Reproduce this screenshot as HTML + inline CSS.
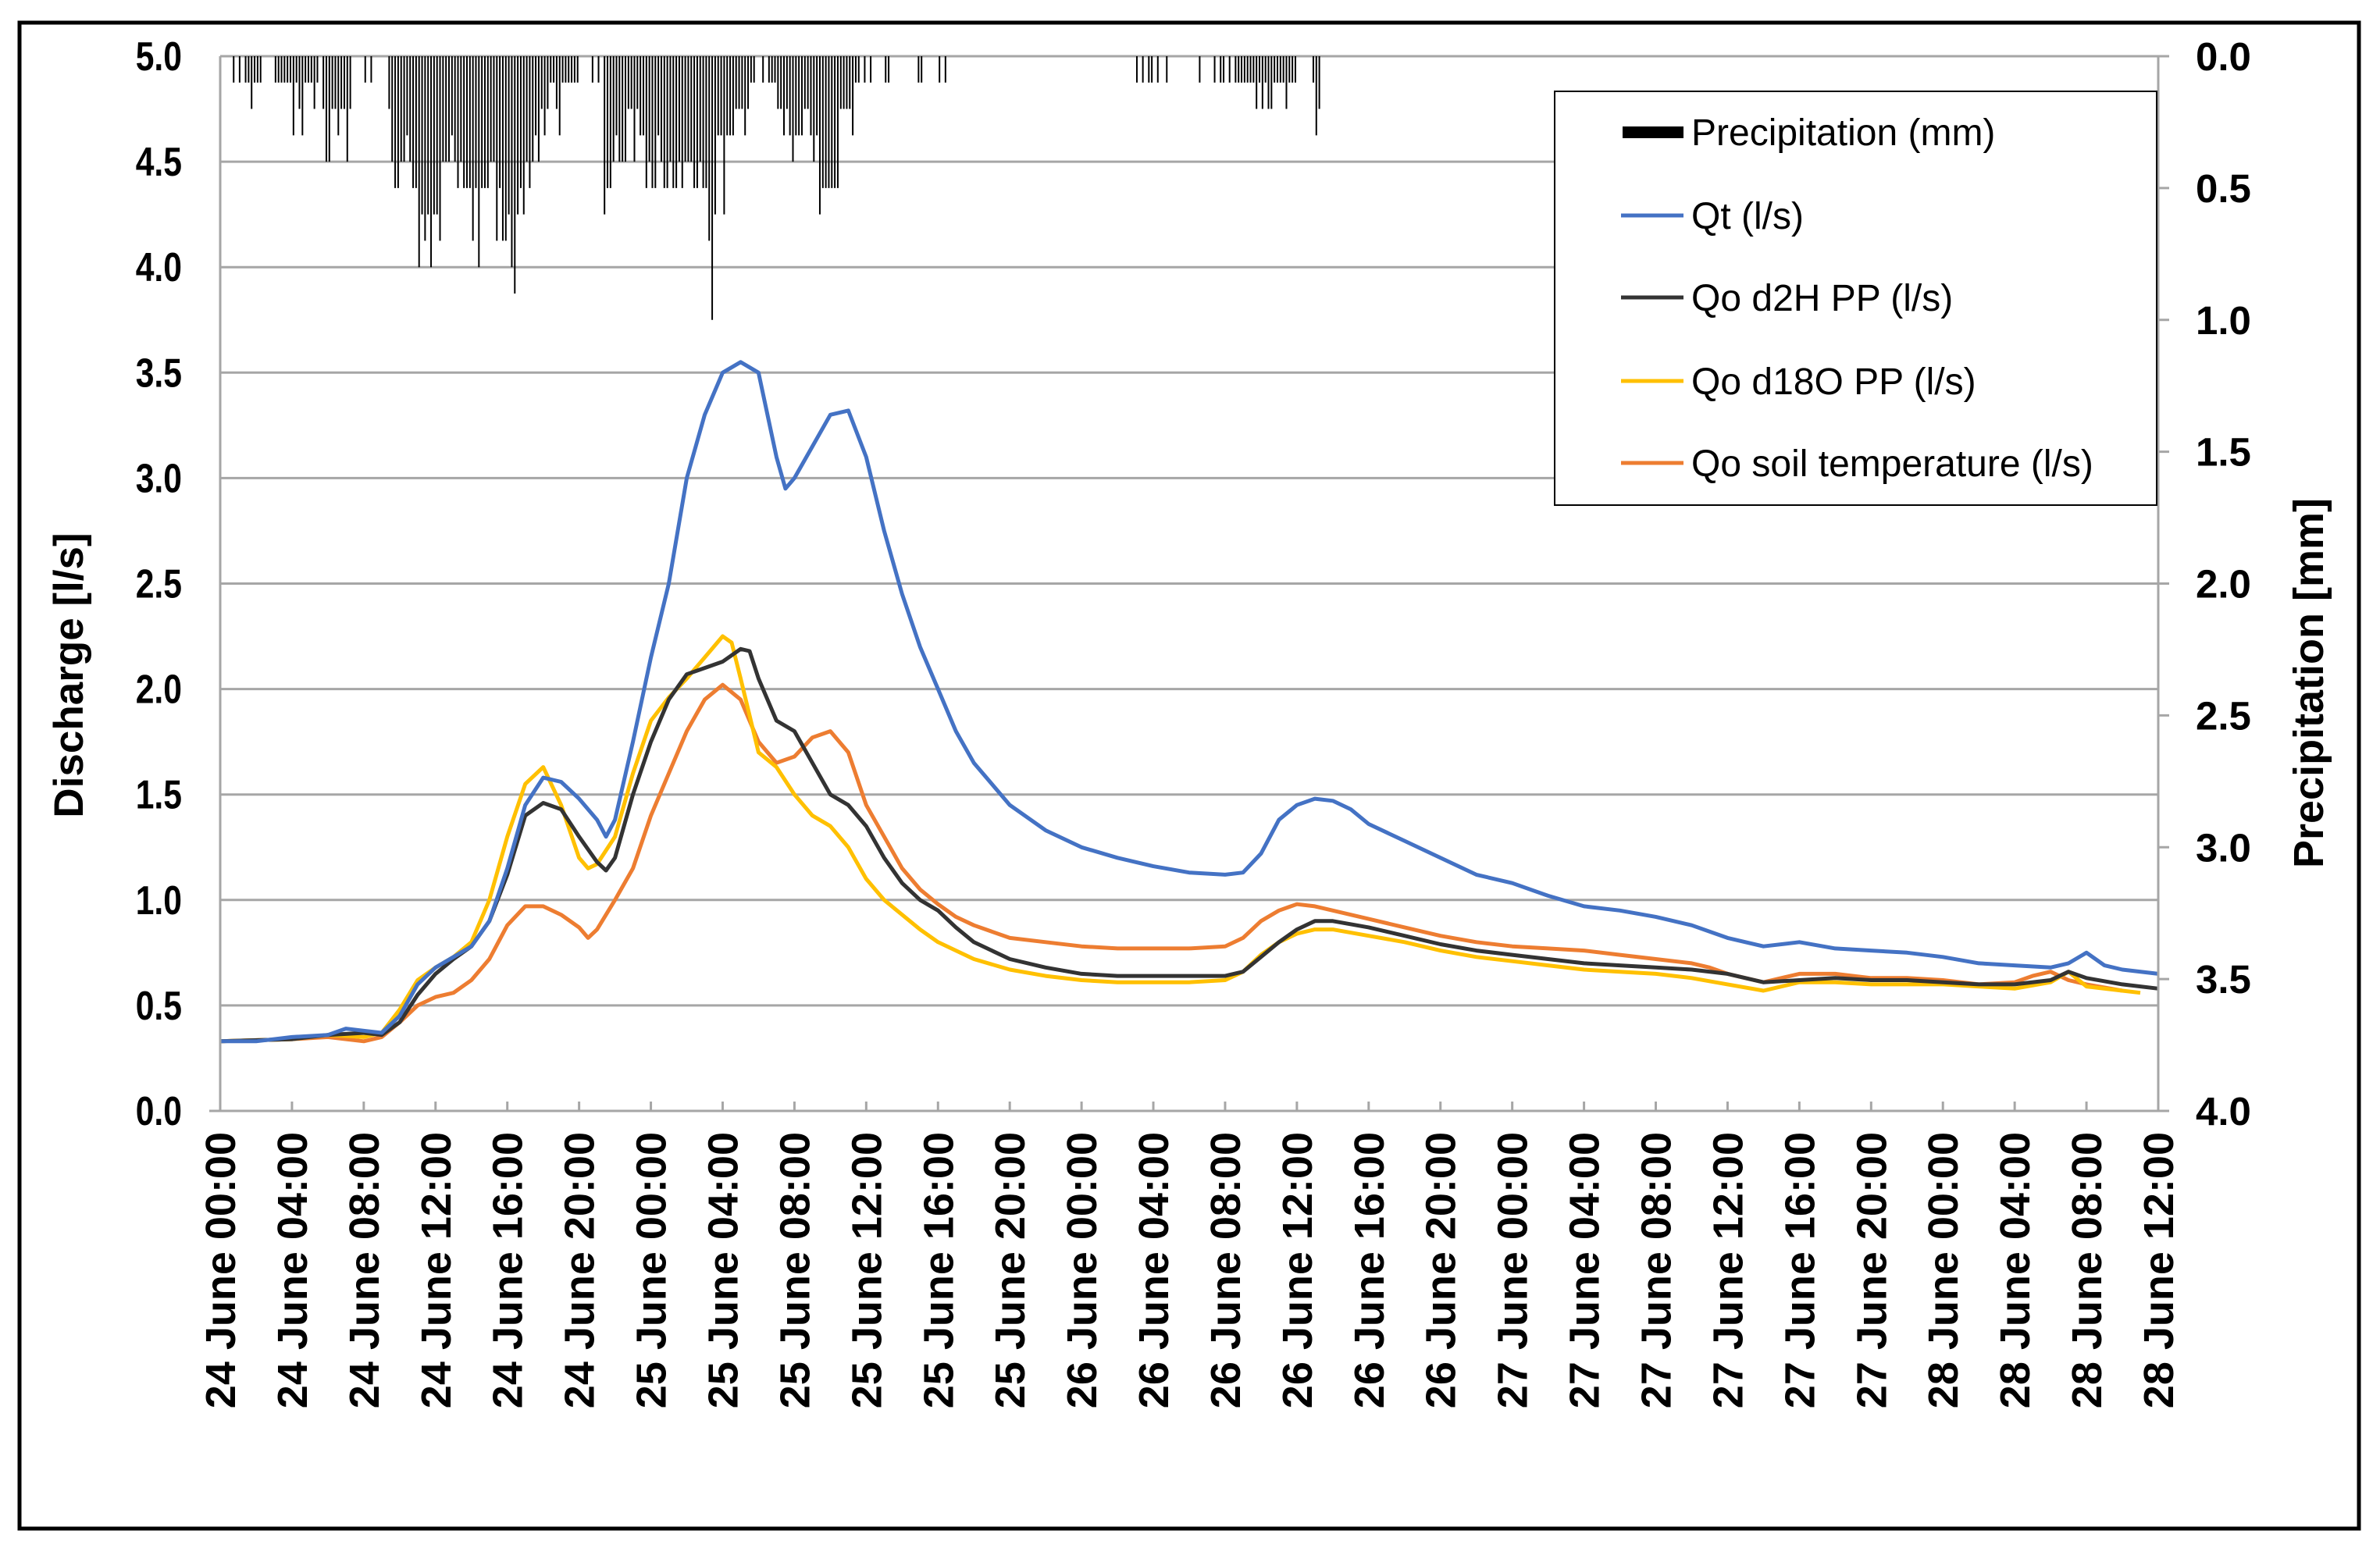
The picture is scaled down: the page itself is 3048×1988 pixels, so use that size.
<!DOCTYPE html>
<html><head><meta charset="utf-8"><style>
html,body{margin:0;padding:0;background:#fff}
svg{display:block}
text{font-family:"Liberation Sans",Arial,sans-serif}
</style></head><body>
<svg id="chart" width="3048" height="1988" viewBox="0 0 3048 1988" xmlns="http://www.w3.org/2000/svg">
<rect x="0" y="0" width="3048" height="1988" fill="#fff"/>
<rect x="25" y="29" width="2996" height="1929" fill="none" stroke="#000" stroke-width="5"/>
<g id="grid"></g><g id="precip"></g><g id="series"></g><g id="axes"></g>
<g>
<rect x="1991" y="117" width="771" height="530" fill="#fff" stroke="#000" stroke-width="2"/>
<g><rect x="2078" y="162" width="78" height="15" fill="#000"/><text x="2166" y="186" font-size="48">Precipitation (mm)</text></g>
<g><line x1="2076" y1="276" x2="2156" y2="276" stroke="#4472C4" stroke-width="5"/><text x="2166" y="293" font-size="48">Qt (l/s)</text></g>
<g><line x1="2076" y1="381" x2="2156" y2="381" stroke="#333" stroke-width="5"/><text x="2166" y="398" font-size="48">Qo d2H PP (l/s)</text></g>
<g><line x1="2076" y1="488" x2="2156" y2="488" stroke="#FFC000" stroke-width="5"/><text x="2166" y="505" font-size="48">Qo d18O PP (l/s)</text></g>
<g><line x1="2076" y1="593" x2="2156" y2="593" stroke="#ED7D31" stroke-width="5"/><text x="2166" y="610" font-size="48">Qo soil temperature (l/s)</text></g>
</g>
<text transform="translate(106,865) rotate(-90)" text-anchor="middle" font-size="53" font-weight="bold">Discharge [l/s]</text>
<text transform="translate(2975,875) rotate(-90)" text-anchor="middle" font-size="54" font-weight="bold">Precipitation [mm]</text>
</svg>
<script>
const leftTicks=[0,0.5,1,1.5,2,2.5,3,3.5,4,4.5,5];
const rightTicks=["0.0","0.5","1.0","1.5","2.0","2.5","3.0","3.5","4.0"];
const xDays=["24","24","24","24","24","24","25","25","25","25","25","25","26","26","26","26","26","26","27","27","27","27","27","27","28","28","28","28"];
const xTimes=["00:00","04:00","08:00","12:00","16:00","20:00","00:00","04:00","08:00","12:00","16:00","20:00","00:00","04:00","08:00","12:00","16:00","20:00","00:00","04:00","08:00","12:00","16:00","20:00","00:00","04:00","08:00","12:00"];
// precipitation: 10-minute slot index and tenths of mm
const precipSlots=[4,6,8,9,10,11,12,13,18,19,20,21,22,23,24,25,26,27,28,29,30,31,32,34,35,36,37,38,39,40,41,42,43,48,50,56,57,58,59,60,61,62,63,64,65,66,67,68,69,70,71,72,73,74,75,76,77,78,79,80,81,82,83,84,85,86,87,88,89,90,91,92,93,94,95,96,97,98,99,100,101,102,103,104,105,106,107,108,109,110,111,112,113,114,115,116,117,118,119,124,126,128,129,130,131,132,133,134,135,136,137,138,139,140,141,142,143,144,145,146,147,148,149,150,151,152,153,154,155,156,157,158,159,160,161,162,163,164,165,166,167,168,169,170,171,172,173,174,175,176,177,178,181,183,184,185,186,187,188,189,190,191,192,193,194,195,196,197,198,199,200,201,202,203,204,205,206,207,208,209,210,211,212,213,215,217,222,223,233,234,240,242,306,308,310,311,313,316,327,332,334,335,337,339,340,341,342,343,344,345,346,347,348,349,350,351,352,353,354,355,356,357,358,359,365,366,367];
const precipTenths=[1,1,1,1,2,1,1,1,1,1,1,1,1,1,3,1,2,3,1,1,1,2,1,2,4,4,2,2,3,2,2,4,2,1,1,2,4,5,5,4,4,3,4,5,5,8,6,7,6,8,6,6,7,4,4,4,3,4,5,4,5,5,5,7,5,8,5,5,5,4,4,7,5,7,7,6,8,9,6,5,6,4,5,4,3,4,2,3,2,1,1,2,3,1,1,1,1,1,1,1,1,6,5,5,4,3,4,4,4,2,2,4,2,3,3,5,4,5,5,3,4,5,5,4,5,5,4,5,4,4,4,5,5,4,5,5,7,10,6,3,3,6,3,3,3,2,2,2,3,2,1,1,1,1,1,1,2,2,3,2,3,4,3,3,3,2,2,3,4,3,6,5,5,5,5,5,5,2,2,2,2,3,1,1,1,1,1,1,1,1,1,1,1,1,1,1,1,1,1,1,1,1,1,1,1,1,1,1,1,1,2,1,2,1,2,2,1,1,1,1,2,1,1,1,1,3,2,1];
const qtHours=[0,2,4,6,7,8,9,10,11,12,13,14,15,16,17,18,19,20,21,21.5,22,23,24,25,26,27,28,29,30,30.5,31,31.5,32,33,34,35,36,37,38,39,40,41,42,44,46,48,50,52,54,56,57,58,59,60,61,62,63,64,66,68,70,72,74,76,78,80,82,84,86,88,90,92,94,96,98,100,102,103,104,105,106,108];
const qtValues=[0.33,0.33,0.35,0.36,0.39,0.38,0.37,0.45,0.6,0.68,0.73,0.78,0.9,1.15,1.45,1.58,1.56,1.48,1.38,1.3,1.38,1.75,2.15,2.5,3.0,3.3,3.5,3.55,3.5,3.3,3.1,2.95,3.0,3.15,3.3,3.32,3.1,2.75,2.45,2.2,2.0,1.8,1.65,1.45,1.33,1.25,1.2,1.16,1.13,1.12,1.13,1.22,1.38,1.45,1.48,1.47,1.43,1.36,1.28,1.2,1.12,1.08,1.02,0.97,0.95,0.92,0.88,0.82,0.78,0.8,0.77,0.76,0.75,0.73,0.7,0.69,0.68,0.7,0.75,0.69,0.67,0.65];
const d2hHours=[0,4,6,8,9,10,11,12,13,14,15,16,17,18,19,20,21,21.5,22,23,24,25,26,27,28,29,29.5,30,31,32,33,34,35,36,37,38,39,40,41,42,44,46,48,50,52,54,56,57,58,59,60,61,62,64,66,68,70,72,74,76,78,80,82,84,86,88,90,92,94,96,98,100,102,103,104,106,108];
const d2hValues=[0.33,0.34,0.36,0.37,0.36,0.42,0.55,0.65,0.72,0.78,0.9,1.12,1.4,1.46,1.43,1.3,1.18,1.14,1.2,1.5,1.75,1.95,2.07,2.1,2.13,2.19,2.18,2.05,1.85,1.8,1.65,1.5,1.45,1.35,1.2,1.08,1.0,0.95,0.87,0.8,0.72,0.68,0.65,0.64,0.64,0.64,0.64,0.66,0.73,0.8,0.86,0.9,0.9,0.87,0.83,0.79,0.76,0.74,0.72,0.7,0.69,0.68,0.67,0.65,0.61,0.62,0.63,0.62,0.62,0.61,0.6,0.6,0.62,0.66,0.63,0.6,0.58];
const d18oHours=[0,4,6,8,9,10,11,12,13,14,15,16,17,18,19,20,20.5,21,22,23,24,25,26,27,28,28.5,29,30,31,32,33,34,35,36,37,38,39,40,41,42,44,46,48,50,52,54,56,57,58,59,60,61,62,64,66,68,70,72,74,76,78,80,82,84,86,88,90,92,94,96,98,100,102,103,104,106,107];
const d18oValues=[0.33,0.34,0.36,0.35,0.37,0.48,0.62,0.68,0.73,0.8,1.0,1.3,1.55,1.63,1.45,1.2,1.15,1.17,1.3,1.6,1.85,1.96,2.05,2.15,2.25,2.22,2.05,1.7,1.63,1.5,1.4,1.35,1.25,1.1,1.0,0.93,0.86,0.8,0.76,0.72,0.67,0.64,0.62,0.61,0.61,0.61,0.62,0.66,0.74,0.8,0.84,0.86,0.86,0.83,0.8,0.76,0.73,0.71,0.69,0.67,0.66,0.65,0.63,0.6,0.57,0.61,0.61,0.6,0.6,0.6,0.59,0.58,0.61,0.66,0.59,0.57,0.56];
const soilHours=[0,4,6,8,9,10,11,12,13,14,15,16,17,18,19,20,20.5,21,22,23,24,25,26,27,28,29,30,31,32,33,34,35,36,37,38,39,40,41,42,44,46,48,50,52,54,56,57,58,59,60,61,62,64,66,68,70,72,74,76,78,80,82,83,84,86,88,90,92,94,96,98,100,101,102,103,104,106];
const soilValues=[0.33,0.34,0.35,0.33,0.35,0.42,0.5,0.54,0.56,0.62,0.72,0.88,0.97,0.97,0.93,0.87,0.82,0.86,1.0,1.15,1.4,1.6,1.8,1.95,2.02,1.95,1.75,1.65,1.68,1.77,1.8,1.7,1.45,1.3,1.15,1.05,0.98,0.92,0.88,0.82,0.8,0.78,0.77,0.77,0.77,0.78,0.82,0.9,0.95,0.98,0.97,0.95,0.91,0.87,0.83,0.8,0.78,0.77,0.76,0.74,0.72,0.7,0.68,0.65,0.61,0.65,0.65,0.63,0.63,0.62,0.6,0.61,0.64,0.66,0.62,0.6,0.57];

const NS="http://www.w3.org/2000/svg";
const X0=282,X1=2764,Y0=1423,Y1=72,HMAX=108;
const xScale=h=>X0+(X1-X0)*h/HMAX;
const yScale=v=>Y0-(Y0-Y1)*v/5;
const pScale=mm=>Y1+(Y0-Y1)*mm/4;
function mk(tag,attrs,parent){const e=document.createElementNS(NS,tag);for(const k in attrs)e.setAttribute(k,attrs[k]);parent.appendChild(e);return e;}
const grid=document.getElementById('grid'),axes=document.getElementById('axes'),prec=document.getElementById('precip'),ser=document.getElementById('series');
leftTicks.forEach(v=>{
  const y=yScale(v);
  if(v>0){const g=mk('line',{x1:X0,x2:X1,y1:y,y2:y,stroke:'#a6a6a6','stroke-width':3},grid);
  
  }
  const t=mk('text',{transform:`translate(233,${y+18}) scale(0.82,1)`,'text-anchor':'end','font-size':52,'font-weight':'bold'},axes);
  t.textContent=v.toFixed(1);
  
  
});
rightTicks.forEach(s=>{
  const y=pScale(parseFloat(s));
  mk('line',{x1:X1,x2:X1+14,y1:y,y2:y,stroke:'#a6a6a6','stroke-width':3},axes);
  const t=mk('text',{x:2812,y:y+18,'font-size':51,'font-weight':'bold'},axes);
  t.textContent=s;
  
  
});
const la=mk('line',{x1:X0,x2:X0,y1:Y1,y2:Y0,stroke:'#a6a6a6','stroke-width':3},axes);


const ra=mk('line',{x1:X1,x2:X1,y1:Y1,y2:Y0,stroke:'#a6a6a6','stroke-width':3},axes);


const xa=mk('line',{x1:X0-14,x2:X1+14,y1:Y0,y2:Y0,stroke:'#a6a6a6','stroke-width':3},axes);


xTimes.forEach((tm,i)=>{
  const x=xScale(i*4);
  mk('line',{x1:x,x2:x,y1:Y0-12,y2:Y0,stroke:'#a6a6a6','stroke-width':3},axes);
  const t=mk('text',{transform:`translate(${x+19},1450) rotate(-90)`,'text-anchor':'end','font-size':54,'font-weight':'bold','xml:space':'preserve'},axes);
  t.textContent=xDays[i]+' June  '+tm;
  
  
});
precipSlots.forEach((s,i)=>{
  const x=xScale((s+0.5)/6);
  const b=mk('line',{x1:x,x2:x,y1:Y1,y2:pScale(precipTenths[i]/10),stroke:'#000','stroke-width':2},prec);
  
  
});
function line(hours,vals,color,name){
  const d=hours.map((h,i)=>(i?'L':'M')+xScale(h).toFixed(1)+','+yScale(vals[i]).toFixed(1)).join('');
  const p=mk('path',{d:d,fill:'none',stroke:color,'stroke-width':5,'stroke-linejoin':'round'},ser);
  
  
}
line(soilHours,soilValues,'#ED7D31','series-qo-soil-temperature');
line(d18oHours,d18oValues,'#FFC000','series-qo-d18o');
line(d2hHours,d2hValues,'#333333','series-qo-d2h');
line(qtHours,qtValues,'#4472C4','series-qt');
</script>
</body></html>
